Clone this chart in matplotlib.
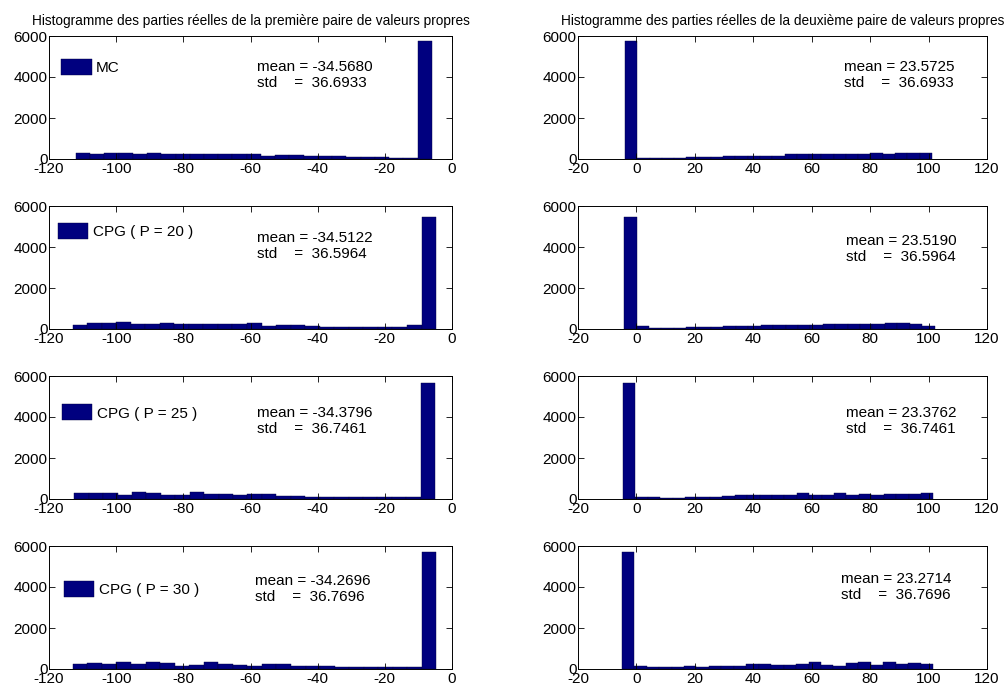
import numpy as np
import matplotlib.pyplot as plt

plt.rcParams['font.family'] = ['Liberation Sans', 'DejaVu Sans']
plt.rcParams['axes.unicode_minus'] = False

titles = ["Histogramme des parties réelles de la première paire de valeurs propres",
          "Histogramme des parties réelles de la deuxième paire de valeurs propres"]
labels = ["MC", "CPG ( P = 20 )", "CPG ( P = 25 )", "CPG ( P = 30 )"]

mean_left = ["-34.5680", "-34.5122", "-34.3796", "-34.2696"]
mean_right = ["23.5725", "23.5190", "23.3762", "23.2714"]
std_vals = ["36.6933", "36.5964", "36.7461", "36.7696"]

# bin layout (first edge, bin width), 25 bins each
left_start = [-112.0, -113.0, -112.5, -112.9]
left_width = [4.24, 4.33, 4.30, 4.33]
right_start = [-3.9, -4.2, -4.6, -5.0]
right_width = [4.20, 4.25, 4.25, 4.26]

# counts per bin (left column: first pair, right column: second pair)
left_mc = [280, 250, 270, 280, 260, 280, 240, 220, 250, 250, 250, 250, 250,
           170, 190, 190, 160, 150, 130, 120, 110, 80, 70, 70, 5750]
left_p20 = [210, 280, 290, 320, 260, 250, 280, 250, 250, 230, 230, 240, 270,
            170, 200, 200, 150, 110, 110, 110, 110, 110, 110, 200, 5450]
left_p25 = [270, 280, 270, 210, 320, 280, 190, 210, 330, 240, 220, 200, 260,
            250, 160, 130, 110, 100, 110, 100, 80, 80, 90, 100, 5650]
left_p30 = [250, 300, 260, 340, 220, 330, 300, 170, 210, 340, 240, 200, 170,
            220, 240, 160, 130, 130, 90, 110, 90, 90, 110, 110, 5700]

right_mc = [5750, 60, 60, 60, 60, 80, 100, 100, 130, 140, 170, 170, 170,
            230, 230, 230, 240, 240, 220, 250, 270, 250, 270, 270, 280]
right_p20 = [5450, 150, 60, 60, 60, 80, 90, 100, 130, 160, 170, 180, 200,
             180, 200, 190, 230, 240, 220, 260, 250, 300, 280, 230, 170]
right_p25 = [5650, 100, 100, 60, 70, 80, 100, 120, 150, 210, 200, 180, 190,
             210, 280, 180, 210, 270, 190, 230, 210, 230, 250, 260, 270]
right_p30 = [5700, 150, 120, 80, 90, 130, 90, 130, 130, 170, 240, 220, 190,
             210, 250, 330, 200, 170, 290, 330, 210, 330, 250, 270, 250]

left_counts = [left_mc, left_p20, left_p25, left_p30]
right_counts = [right_mc, right_p20, right_p25, right_p30]

bar_color = '#00007f'
fig = plt.figure(figsize=(10.07, 6.95), dpi=100)

W, H = 1007.0, 695.0
row_tops = [36, 206, 376, 546]
ax_h = 123
# legend / annotation placement (axes fractions), per row
legend_x = [0.03, 0.022, 0.032, 0.037]
legend_y = [0.813, 0.862, 0.77, 0.715]
text_left = [(0.516, 0.75), (0.516, 0.74), (0.516, 0.70), (0.511, 0.715)]
text_right = [(0.650, 0.75), (0.655, 0.715), (0.655, 0.70), (0.643, 0.73)]
line_gap = 0.13


def style_axes(ax, xlim, xticks):
    ax.set_xlim(xlim)
    ax.set_ylim(0, 6000)
    ax.set_xticks(xticks)
    ax.set_yticks([0, 2000, 4000, 6000])
    ax.tick_params(direction='in', top=True, right=True, length=4,
                   labelsize=11, width=0.6)
    ax.tick_params(axis='x', pad=2)
    ax.tick_params(axis='y', pad=1)
    for s in ax.spines.values():
        s.set_linewidth(0.7)


def stats_text(ax, pos, mean, std):
    ax.text(pos[0], pos[1], "mean = " + mean, transform=ax.transAxes,
            fontsize=11, va='center')
    ax.text(pos[0], pos[1] - line_gap, "std    =  " + std, transform=ax.transAxes,
            fontsize=11, va='center')


for i in range(4):
    bottom = 1 - (row_tops[i] + ax_h) / H

    # left column
    axl = fig.add_axes([49 / W, bottom, 403 / W, ax_h / H])
    x0 = left_start[i] + left_width[i] * np.arange(25)
    axl.bar(x0, left_counts[i], width=left_width[i], align='edge',
            color=bar_color, edgecolor='#000040', linewidth=0.3, label=labels[i])
    style_axes(axl, (-120, 0), range(-120, 1, 20))
    axl.legend(loc='upper left', bbox_to_anchor=(legend_x[i], legend_y[i]),
               frameon=False, fontsize=11, handlelength=2.0, handleheight=1.25,
               handletextpad=0.3, borderaxespad=0, borderpad=0)
    stats_text(axl, text_left[i], mean_left[i], std_vals[i])

    # right column
    axr = fig.add_axes([578 / W, bottom, 409 / W, ax_h / H])
    x0 = right_start[i] + right_width[i] * np.arange(25)
    axr.bar(x0, right_counts[i], width=right_width[i], align='edge',
            color=bar_color, edgecolor='#000040', linewidth=0.3)
    style_axes(axr, (-20, 120), range(-20, 121, 20))
    stats_text(axr, text_right[i], mean_right[i], std_vals[i])

    if i == 0:
        axl.set_title(titles[0], fontsize=9.8, pad=8)
        axr.set_title(titles[1], fontsize=9.8, pad=8)

fig.savefig("out.png", dpi=100)
